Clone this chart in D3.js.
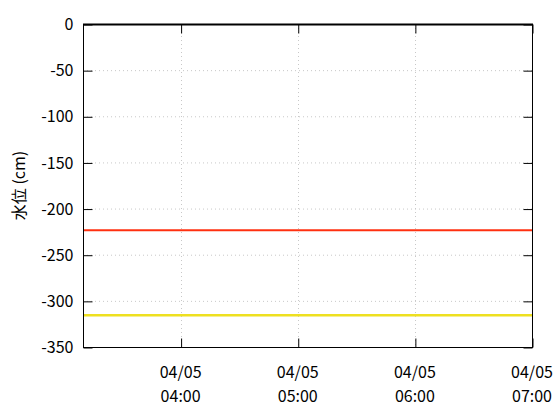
<!DOCTYPE html>
<html><head><meta charset="utf-8">
<script src="https://cdn.jsdelivr.net/npm/d3@7"></script>
<style>
body{margin:0;background:#fff;}
text{font-family:"Noto Sans CJK JP","Noto Sans",sans-serif;}
</style></head>
<body><svg id="c" width="560" height="420"></svg>
<script>
const times = ["2024-04-05T03:10","2024-04-05T04:00","2024-04-05T05:00","2024-04-05T06:00","2024-04-05T07:00"];
const seriesRed = [-223.5,-223.5,-223.5,-223.5,-223.5];
const seriesYellow = [-315.6,-315.6,-315.6,-315.6,-315.6];
const yTicks = [0,-50,-100,-150,-200,-250,-300,-350];
const xTickTimes = ["2024-04-05T04:00","2024-04-05T05:00","2024-04-05T06:00","2024-04-05T07:00"];
const yLabel = "水位 (cm)";

const parse = d3.timeParse("%Y-%m-%dT%H:%M");
const L=83,R=532,T=24,B=347;
const svg=d3.select("#c");
const x=d3.scaleTime().domain([parse(times[0]),parse(times[times.length-1])]).range([L,R]);
const y=d3.scaleLinear().domain([0,-350]).range([T,B]);
const xt=xTickTimes.map(parse);

// grid
const g=svg.append("g");
g.selectAll(".gy").data(yTicks.slice(1,-1)).enter().append("line")
 .attr("x1",L).attr("x2",R).attr("y1",d=>y(d)+0.5).attr("y2",d=>y(d)+0.5)
 .attr("stroke","#c8c8c8").attr("stroke-dasharray","1,3");
g.selectAll(".gx").data(xt.slice(0,-1)).enter().append("line")
 .attr("y1",T).attr("y2",B).attr("x1",d=>Math.round(x(d))+0.5).attr("x2",d=>Math.round(x(d))+0.5)
 .attr("stroke","#c8c8c8").attr("stroke-dasharray","1,3");

// lines
const line=(vals)=>d3.line().x((d,i)=>x(parse(times[i]))).y(d=>y(d))(vals);
svg.append("path").attr("d",line(seriesYellow)).attr("fill","none").attr("stroke","#eee020").attr("stroke-width",2.5);
svg.append("path").attr("d",line(seriesRed)).attr("fill","none").attr("stroke","#ff3010").attr("stroke-width",2);

// axes
const yl=d3.axisLeft(y).tickValues(yTicks).tickSize(-9).tickPadding(18).tickFormat(d=>String(d));
const ya=svg.append("g").attr("transform",`translate(${L+0.5},0.5)`).call(yl);
const yr=svg.append("g").attr("transform",`translate(${R+0.5},0.5)`).call(d3.axisRight(y).tickValues(yTicks).tickSize(-9).tickFormat(""));
const xb=svg.append("g").attr("transform",`translate(0.5,${B+0.5})`).call(d3.axisBottom(x).tickValues(xt).tickSize(-9).tickFormat(""));
const xtp=svg.append("g").attr("transform",`translate(0.5,${T+0.5})`).call(d3.axisTop(x).tickValues(xt).tickSize(-9).tickFormat(""));
[ya,yr,xb,xtp].forEach(a=>{a.select(".domain").remove();a.selectAll("line").attr("stroke","#000");});
ya.selectAll("text").attr("font-size",16).attr("fill","#000").attr("font-family","Noto Sans CJK JP").attr("dx",0).attr("x",-10);

// frame
svg.append("rect").attr("x",L+0.5).attr("y",T+0.5).attr("width",R-L).attr("height",B-T).attr("fill","none").attr("stroke","#000");
svg.append("line").attr("x1",L).attr("x2",R+1).attr("y1",T+0.5).attr("y2",T+0.5).attr("stroke","#000").attr("stroke-width",2);

// x labels
const fmt1=d3.timeFormat("%m/%d"),fmt2=d3.timeFormat("%H:%M");
const xl=svg.append("g").selectAll("g").data(xt).enter().append("g").attr("transform",d=>`translate(${x(d)},0)`);
xl.append("text").attr("y",378).attr("text-anchor","middle").attr("font-size",16).text(fmt1);
xl.append("text").attr("y",402).attr("text-anchor","middle").attr("font-size",16).text(fmt2);

svg.append("text").attr("transform",`translate(25,${(T+B)/2}) rotate(-90)`).attr("text-anchor","middle")
 .attr("font-size",16).text(yLabel);
</script></body></html>
